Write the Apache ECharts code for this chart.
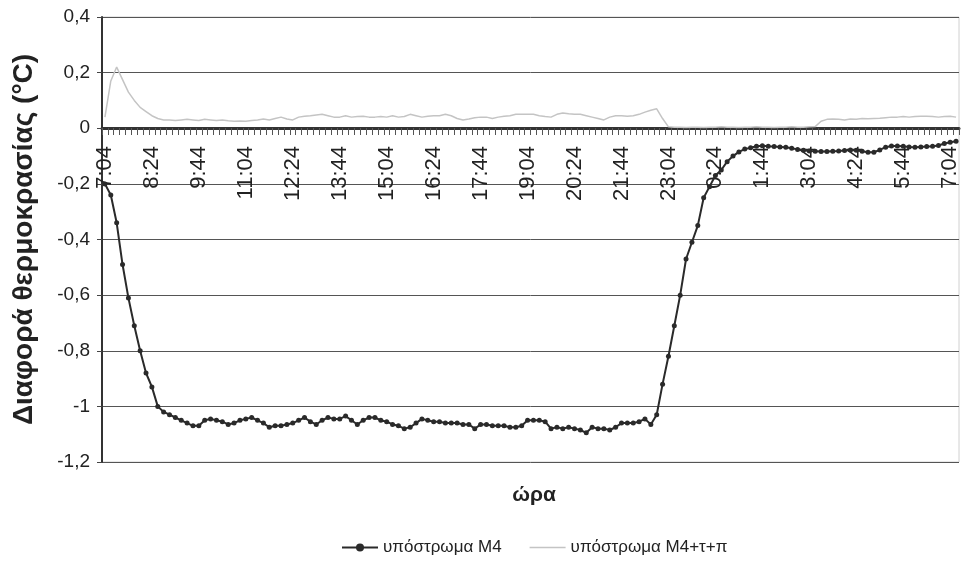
<!DOCTYPE html>
<html>
<head>
<meta charset="utf-8">
<script src="https://cdn.jsdelivr.net/npm/echarts@6/dist/echarts.min.js"></script>
<style>
  html, body { margin: 0; padding: 0; background: #fff; }
  #chart { width: 963px; height: 563px; }
</style>
</head>
<body>
<div id="chart"></div>
<script>
// readings every 10 minutes, starting 7:04
const startMinute = 7 * 60 + 4;
const stepMinutes = 10;

const seriesNames = ['υπόστρωμα Μ4', 'υπόστρωμα Μ4+τ+π'];

const m4 = [
  -0.20, -0.24, -0.34, -0.49, -0.61, -0.71, -0.80, -0.88, -0.93, -1.00,
  -1.02, -1.03, -1.04, -1.05, -1.06, -1.07, -1.07, -1.05, -1.045, -1.05,
  -1.055, -1.065, -1.06, -1.05, -1.045, -1.04, -1.05, -1.06, -1.075, -1.07,
  -1.07, -1.065, -1.06, -1.05, -1.04, -1.055, -1.065, -1.05, -1.04, -1.045,
  -1.045, -1.035, -1.05, -1.065, -1.05, -1.04, -1.04, -1.05, -1.055, -1.065,
  -1.07, -1.08, -1.075, -1.06, -1.045, -1.05, -1.055, -1.055, -1.06, -1.06,
  -1.06, -1.065, -1.065, -1.08, -1.065, -1.065, -1.07, -1.07, -1.07, -1.075,
  -1.075, -1.07, -1.05, -1.05, -1.05, -1.055, -1.08, -1.075, -1.08, -1.075,
  -1.08, -1.085, -1.095, -1.075, -1.08, -1.08, -1.085, -1.075, -1.06, -1.06,
  -1.06, -1.055, -1.045, -1.065, -1.03, -0.92, -0.82, -0.71, -0.60, -0.47,
  -0.41, -0.35, -0.25, -0.21, -0.17, -0.15, -0.12, -0.10, -0.085, -0.075,
  -0.07, -0.065, -0.063, -0.065, -0.066, -0.067, -0.068, -0.072, -0.076, -0.079,
  -0.082, -0.083, -0.084, -0.084, -0.083, -0.082, -0.08, -0.078, -0.079, -0.083,
  -0.086, -0.086, -0.078, -0.068, -0.064, -0.064, -0.065, -0.067, -0.068, -0.067,
  -0.066, -0.065, -0.062, -0.055, -0.05, -0.047
];

const m4tp = [
  0.04, 0.17, 0.22, 0.175, 0.13, 0.10, 0.075, 0.06, 0.045, 0.035,
  0.03, 0.03, 0.028, 0.03, 0.032, 0.03, 0.028, 0.032, 0.03, 0.028,
  0.03, 0.027, 0.025, 0.026, 0.025, 0.028, 0.03, 0.033, 0.03, 0.035,
  0.04, 0.033, 0.03, 0.04, 0.043, 0.045, 0.048, 0.05, 0.045, 0.04,
  0.04, 0.045, 0.04, 0.042, 0.043, 0.04, 0.04, 0.042, 0.04, 0.045,
  0.04, 0.042, 0.05, 0.045, 0.04, 0.043, 0.045, 0.045, 0.05, 0.045,
  0.035, 0.03, 0.033, 0.038, 0.04, 0.04, 0.035, 0.04, 0.043, 0.045,
  0.05, 0.05, 0.05, 0.05, 0.045, 0.042, 0.04, 0.05, 0.055, 0.052,
  0.05, 0.05, 0.045, 0.04, 0.035, 0.03, 0.04, 0.045, 0.045, 0.043,
  0.045, 0.05, 0.058, 0.065, 0.07, 0.035, 0.005, 0.004, 0.004, 0.003,
  0.004, 0.004, 0.003, 0.004, 0.004, 0.005, 0.004, 0.004, 0.003, 0.004,
  0.004, 0.005, 0.004, 0.004, 0.003, 0.004, 0.004, 0.005, 0.004, 0.004,
  0.005, 0.006, 0.025, 0.032, 0.033, 0.032, 0.03, 0.033, 0.032, 0.035,
  0.034, 0.035, 0.036, 0.038, 0.04, 0.04, 0.042, 0.04, 0.042, 0.043,
  0.043, 0.042, 0.04, 0.042, 0.043, 0.04
];

// category labels h:mm
const times = [];
for (let i = 0; i < m4.length; i++) {
  const t = (startMinute + i * stepMinutes) % 1440;
  times.push(Math.floor(t / 60) + ':' + String(t % 60).padStart(2, '0'));
}

const font = '"Liberation Sans", Arial, sans-serif';
const gridTop = 17, gridBottom = 101;
const yMin = -1.2, yMax = 0.4;
// lift the x axis from the plot bottom up to the zero line
const plotHeight = 563 - gridTop - gridBottom;
const zeroLift = -Math.round(plotHeight * (0 - yMin) / (yMax - yMin));

const chart = echarts.init(document.getElementById('chart'));

chart.setOption({
  backgroundColor: '#fff',
  animation: false,
  textStyle: { fontFamily: font },
  title: {
    text: 'ώρα',
    left: 529,
    textAlign: 'center',
    top: 480,
    textStyle: { fontFamily: font, fontSize: 21, fontWeight: 'bold', color: '#222' }
  },
  legend: {
    left: 336,
    top: 534,
    itemWidth: 36,
    itemHeight: 10,
    itemGap: 28,
    textStyle: { fontFamily: font, fontSize: 17, color: '#222' },
    data: [
      { name: seriesNames[0] },
      { name: seriesNames[1], icon: 'path://M0,0 L36,0 L36,1.5 L0,1.5 Z' }
    ]
  },
  grid: {
    left: 102, right: 4, top: gridTop, bottom: gridBottom,
    show: true, borderColor: '#d0d0d0', borderWidth: 1
  },
  xAxis: {
    type: 'category',
    data: times,
    boundaryGap: true,
    offset: zeroLift,
    axisLine: { onZero: false, lineStyle: { color: '#333', width: 3 } },
    axisTick: { show: true, interval: 0, length: 7, lineStyle: { color: '#555', width: 1 } },
    axisLabel: {
      interval: 7,
      rotate: 90,
      margin: 18,
      fontFamily: font,
      fontSize: 22,
      color: '#222'
    },
    splitLine: { show: false }
  },
  yAxis: {
    type: 'value',
    min: yMin,
    max: yMax,
    interval: 0.2,
    name: 'Διαφορά θερμοκρασίας (°C)',
    nameLocation: 'middle',
    nameGap: 64,
    nameTextStyle: { fontFamily: font, fontSize: 28, fontWeight: 'bold', color: '#222' },
    axisLine: { show: true, lineStyle: { color: '#333', width: 2 } },
    axisTick: { show: true, length: 5, lineStyle: { color: '#444' } },
    axisLabel: {
      margin: 12,
      fontFamily: font,
      fontSize: 19,
      color: '#222',
      formatter: v => String(Math.round(v * 10) / 10).replace('.', ',')
    },
    splitLine: { lineStyle: { color: '#555', width: 1 } }
  },
  series: [
    {
      name: seriesNames[0],
      type: 'line',
      data: m4,
      symbol: 'circle',
      symbolSize: 5,
      showAllSymbol: true,
      lineStyle: { color: '#2a2a2a', width: 2 },
      itemStyle: { color: '#2a2a2a' },
      z: 3
    },
    {
      name: seriesNames[1],
      type: 'line',
      data: m4tp,
      symbol: 'none',
      lineStyle: { color: '#c4c4c4', width: 1.5 },
      itemStyle: { color: '#c4c4c4' },
      z: 2
    }
  ]
});
</script>
</body>
</html>
